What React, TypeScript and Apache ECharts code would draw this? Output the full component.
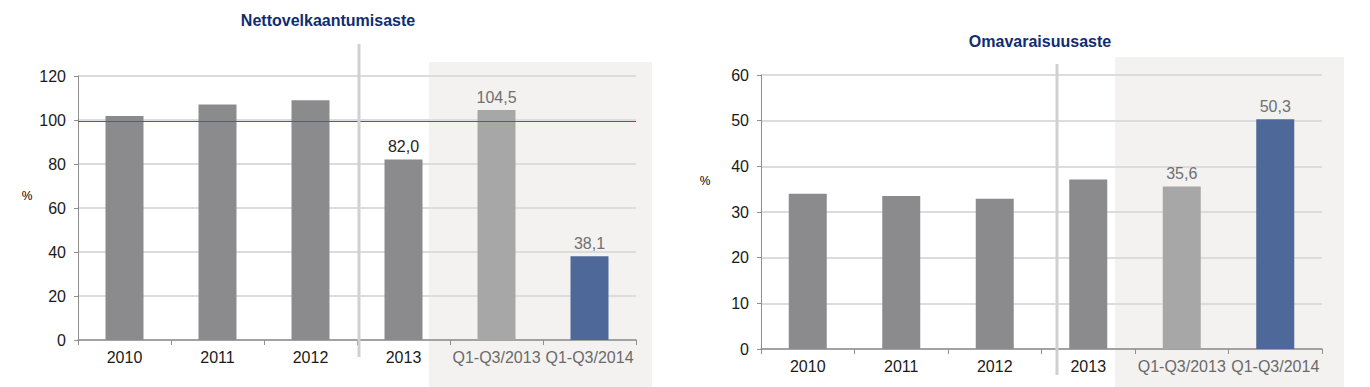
import React, { useEffect, useRef } from "react";
import * as echarts from "echarts";

const categories = ["2010", "2011", "2012", "2013", "Q1-Q3/2013", "Q1-Q3/2014"];
const netDebtValues = [101.8, 107.1, 109.0, 82.0, 104.5, 38.1];
const equityRatioValues = [34.0, 33.5, 32.9, 37.1, 35.6, 50.3];
const netDebtLabeled = [false, false, false, true, true, true];
const equityLabeled = [false, false, false, false, true, true];
const netDebtReference = 99.4;
const leftAxisMax = 120;
const leftAxisInterval = 20;
const rightAxisMax = 60;
const rightAxisInterval = 10;
const titles = ["Nettovelkaantumisaste", "Omavaraisuusaste"];

const barColors = ["#8b8b8d", "#8b8b8d", "#8b8b8d", "#8b8b8d", "#a7a7a7", "#4e6899"];
const labelColors = ["#222", "#222", "#222", "#262626", "#707070", "#707070"];
const catLabelColors = ["#1a1a1a", "#1a1a1a", "#1a1a1a", "#1a1a1a", "#6a6a6a", "#6a6a6a"];

const FONT = "'Liberation Sans', Arial, sans-serif";

const fmt = (v: number) => v.toFixed(1).replace(".", ",");

function buildData(values: number[], labeled: boolean[]) {
  return values.map((v, i) => ({
    value: v,
    itemStyle: { color: barColors[i] },
    label: {
      show: labeled[i],
      position: "top",
      distance: 5,
      color: labelColors[i],
      fontSize: 16,
      fontFamily: FONT,
      formatter: (p: any) => fmt(p.value),
    },
  }));
}

export default function App() {
  const ref = useRef<HTMLDivElement>(null);
  useEffect(() => {
    if (!ref.current) return;
    const chart = echarts.init(ref.current, null, { renderer: "svg" });
    const xAxisCommon = (gridIndex: number) => ({
      type: "category",
      gridIndex,
      data: categories,
      axisLine: { lineStyle: { color: "#8f8f8f", width: 1.5 } },
      axisTick: { show: true, alignWithLabel: false, interval: 0, length: 5, lineStyle: { color: "#8f8f8f" } },
      axisLabel: {
        interval: 0,
        margin: 9,
        fontSize: 16,
        fontFamily: FONT,
        color: (_v: any, i: number) => catLabelColors[i],
      },
      splitLine: { show: false },
    });
    const yAxisCommon = (gridIndex: number, max: number, interval: number) => ({
      type: "value",
      gridIndex,
      min: 0,
      max,
      interval,
      axisLine: { show: true, lineStyle: { color: "#8f8f8f", width: 1 } },
      axisTick: { show: true, length: 4, lineStyle: { color: "#8f8f8f" } },
      axisLabel: { margin: 12, fontSize: 16, fontFamily: FONT, color: "#1a1a1a" },
      splitLine: { show: true, lineStyle: { color: "#dcdcdc", width: 2 } },
    });
    chart.setOption({
      animation: false,
      backgroundColor: "#ffffff",
      grid: [
        { left: 78, top: 76, width: 558, height: 264 },
        { left: 761, top: 75, width: 561, height: 274 },
      ],
      xAxis: [xAxisCommon(0), xAxisCommon(1)],
      yAxis: [
        yAxisCommon(0, leftAxisMax, leftAxisInterval),
        yAxisCommon(1, rightAxisMax, rightAxisInterval),
      ],
      graphic: {
        elements: [
          { type: "rect", z: -10, shape: { x: 429, y: 62, width: 223, height: 330 }, style: { fill: "#f3f2f0" } },
          { type: "rect", z: -10, shape: { x: 1115, y: 57, width: 229, height: 335 }, style: { fill: "#f3f2f0" } },
          { type: "line", z: 100, shape: { x1: 359, y1: 44, x2: 359, y2: 357 }, style: { stroke: "#d0d0d0", lineWidth: 3 } },
          { type: "line", z: 100, shape: { x1: 1057, y1: 64, x2: 1057, y2: 375 }, style: { stroke: "#d0d0d0", lineWidth: 3 } },
          {
            type: "text", x: 328, y: 20, z: 100,
            style: { text: titles[0], fill: "#0f2d6f", font: `bold 16px ${FONT}`, textAlign: "center", textVerticalAlign: "middle" },
          },
          {
            type: "text", x: 1040, y: 41, z: 100,
            style: { text: titles[1], fill: "#0f2d6f", font: `bold 16px ${FONT}`, textAlign: "center", textVerticalAlign: "middle" },
          },
          {
            type: "text", x: 27, y: 196, z: 100,
            style: { text: "%", fill: "#000000", font: `12px ${FONT}`, textAlign: "center", textVerticalAlign: "middle" },
          },
          {
            type: "text", x: 705, y: 181, z: 100,
            style: { text: "%", fill: "#000000", font: `12px ${FONT}`, textAlign: "center", textVerticalAlign: "middle" },
          },
        ],
      },
      series: [
        {
          type: "bar",
          xAxisIndex: 0,
          yAxisIndex: 0,
          barWidth: 38,
          data: buildData(netDebtValues, netDebtLabeled),
          markLine: {
            silent: true,
            symbol: "none",
            label: { show: false },
            lineStyle: { color: "#b8353b", width: 1.2, type: "solid" },
            data: [{ yAxis: netDebtReference }],
          },
        },
        {
          type: "bar",
          xAxisIndex: 1,
          yAxisIndex: 1,
          barWidth: 38,
          data: buildData(equityRatioValues, equityLabeled),
        },
      ],
    });
    return () => chart.dispose();
  }, []);
  return (
    <div
      ref={ref}
      style={{ position: "absolute", left: 0, top: 0, width: 1370, height: 387 }}
    />
  );
}
